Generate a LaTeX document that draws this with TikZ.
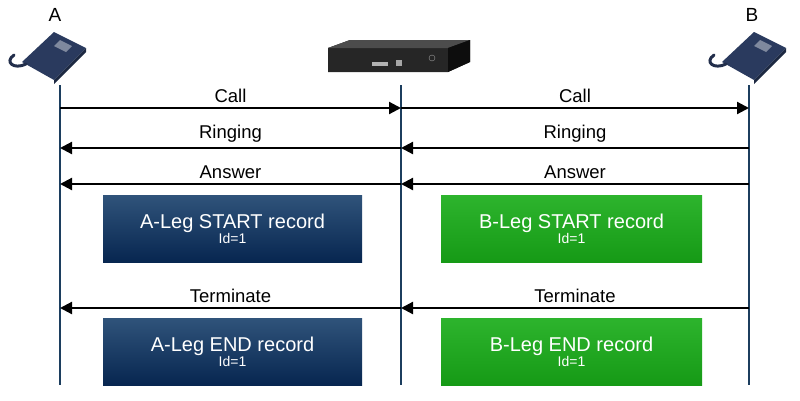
\documentclass[tikz,border=0pt]{standalone}
\usepackage{fontspec}
\setmainfont{Liberation Sans}
\usetikzlibrary{arrows.meta}
\definecolor{navy}{HTML}{0B3563}
\definecolor{navyd}{HTML}{072650}
\definecolor{grn}{HTML}{22B022}
\definecolor{grnd}{HTML}{169A16}
\definecolor{life}{HTML}{1C3E5E}
\definecolor{phone}{HTML}{2A3A5E}
\begin{document}
\begin{tikzpicture}[x=1pt,y=-1pt,
  lifeline/.style={life,line width=1.4pt},
  msg/.style={line width=2.2pt,-{Triangle[length=12pt,width=12pt]}},
  lbl/.style={font=\fontsize{18.5}{18.5}\selectfont,above=1pt},
  abox/.style={draw=none,top color=navy!85!white,bottom color=navyd,minimum width=259pt,minimum height=67pt,text=white,align=center,inner sep=0pt},
  bbox/.style={draw=none,top color=grn!95!white,bottom color=grnd,minimum width=261pt,minimum height=67pt,text=white,align=center,inner sep=0pt}]
\useasboundingbox (0,0) rectangle (800,400);
% lifelines
\coordinate (a0) at (60,85); \coordinate (a1) at (60,385);
\coordinate (s0) at (401,85); \coordinate (s1) at (401,385);
\coordinate (b0) at (749,85); \coordinate (b1) at (749,385);
\draw[lifeline] (a0) -- (a1); \draw[lifeline] (s0) -- (s1); \draw[lifeline] (b0) -- (b1);
% phone icons
\foreach \px/\lx/\nm/\lab in {40/55/pa/A,740/752/pb/B}{
  \node[font=\fontsize{19}{19}\selectfont] (\nm) at (\lx,15) {\lab};
  \fill[phone] (\px-18,62) -- (\px+14,32) -- (\px+46,48) -- (\px+14,80) -- cycle;
  \fill[phone!70!black] (\px+14,80) -- (\px+46,48) -- (\px+46,52) -- (\px+14,84) -- cycle;
  \fill[phone!60!white] (\px+20,40) -- (\px+32,46) -- (\px+26,52) -- (\px+14,46) -- cycle;
  \draw[phone!80!black,line width=3pt,line cap=round] (\px-26,55) .. controls (\px-36,62) and (\px-26,70) .. (\px-14,64);
}
% server
\fill[black!85] (328,48) -- (350,40) -- (470,40) -- (470,62) -- (448,72) -- (328,72) -- cycle;
\fill[black!70] (328,48) -- (350,40) -- (470,40) -- (448,48) -- cycle;
\fill[black!95] (448,48) -- (470,40) -- (470,62) -- (448,72) -- cycle;
\fill[gray!60] (372,62) rectangle (388,66);
\fill[gray!70] (396,60) rectangle (402,66);
\draw[gray!80] (432,58) circle (3pt);
% messages
\draw[msg] (a0|-0,108) -- node[lbl]{Call} (s0|-0,108);
\draw[msg] (s0|-0,108) -- node[lbl]{Call} (b0|-0,108);
\draw[msg] (b0|-0,148) -- node[lbl]{Ringing} (s0|-0,148);
\draw[msg] (s0|-0,148) -- node[lbl]{Ringing} (a0|-0,148);
\draw[msg] (b0|-0,184) -- node[lbl]{Answer} (s0|-0,184);
\draw[msg] (s0|-0,184) -- node[lbl]{Answer} (a0|-0,184);
\draw[msg] (b0|-0,308) -- node[lbl]{Terminate} (s0|-0,308);
\draw[msg] (s0|-0,308) -- node[lbl]{Terminate} (a0|-0,308);
% records
\node[abox] (r1) at (232.5,228.5) {{\fontsize{20}{22}\selectfont A-Leg START record}\\{\fontsize{14}{15}\selectfont Id=1}};
\node[bbox] (r2) at (571.5,228.5) {{\fontsize{20}{22}\selectfont B-Leg START record}\\{\fontsize{14}{15}\selectfont Id=1}};
\node[abox] (r3) at (232.5,351.5) {{\fontsize{20}{22}\selectfont A-Leg END record}\\{\fontsize{14}{15}\selectfont Id=1}};
\node[bbox] (r4) at (571.5,351.5) {{\fontsize{20}{22}\selectfont B-Leg END record}\\{\fontsize{14}{15}\selectfont Id=1}};
\end{tikzpicture}
\end{document}
